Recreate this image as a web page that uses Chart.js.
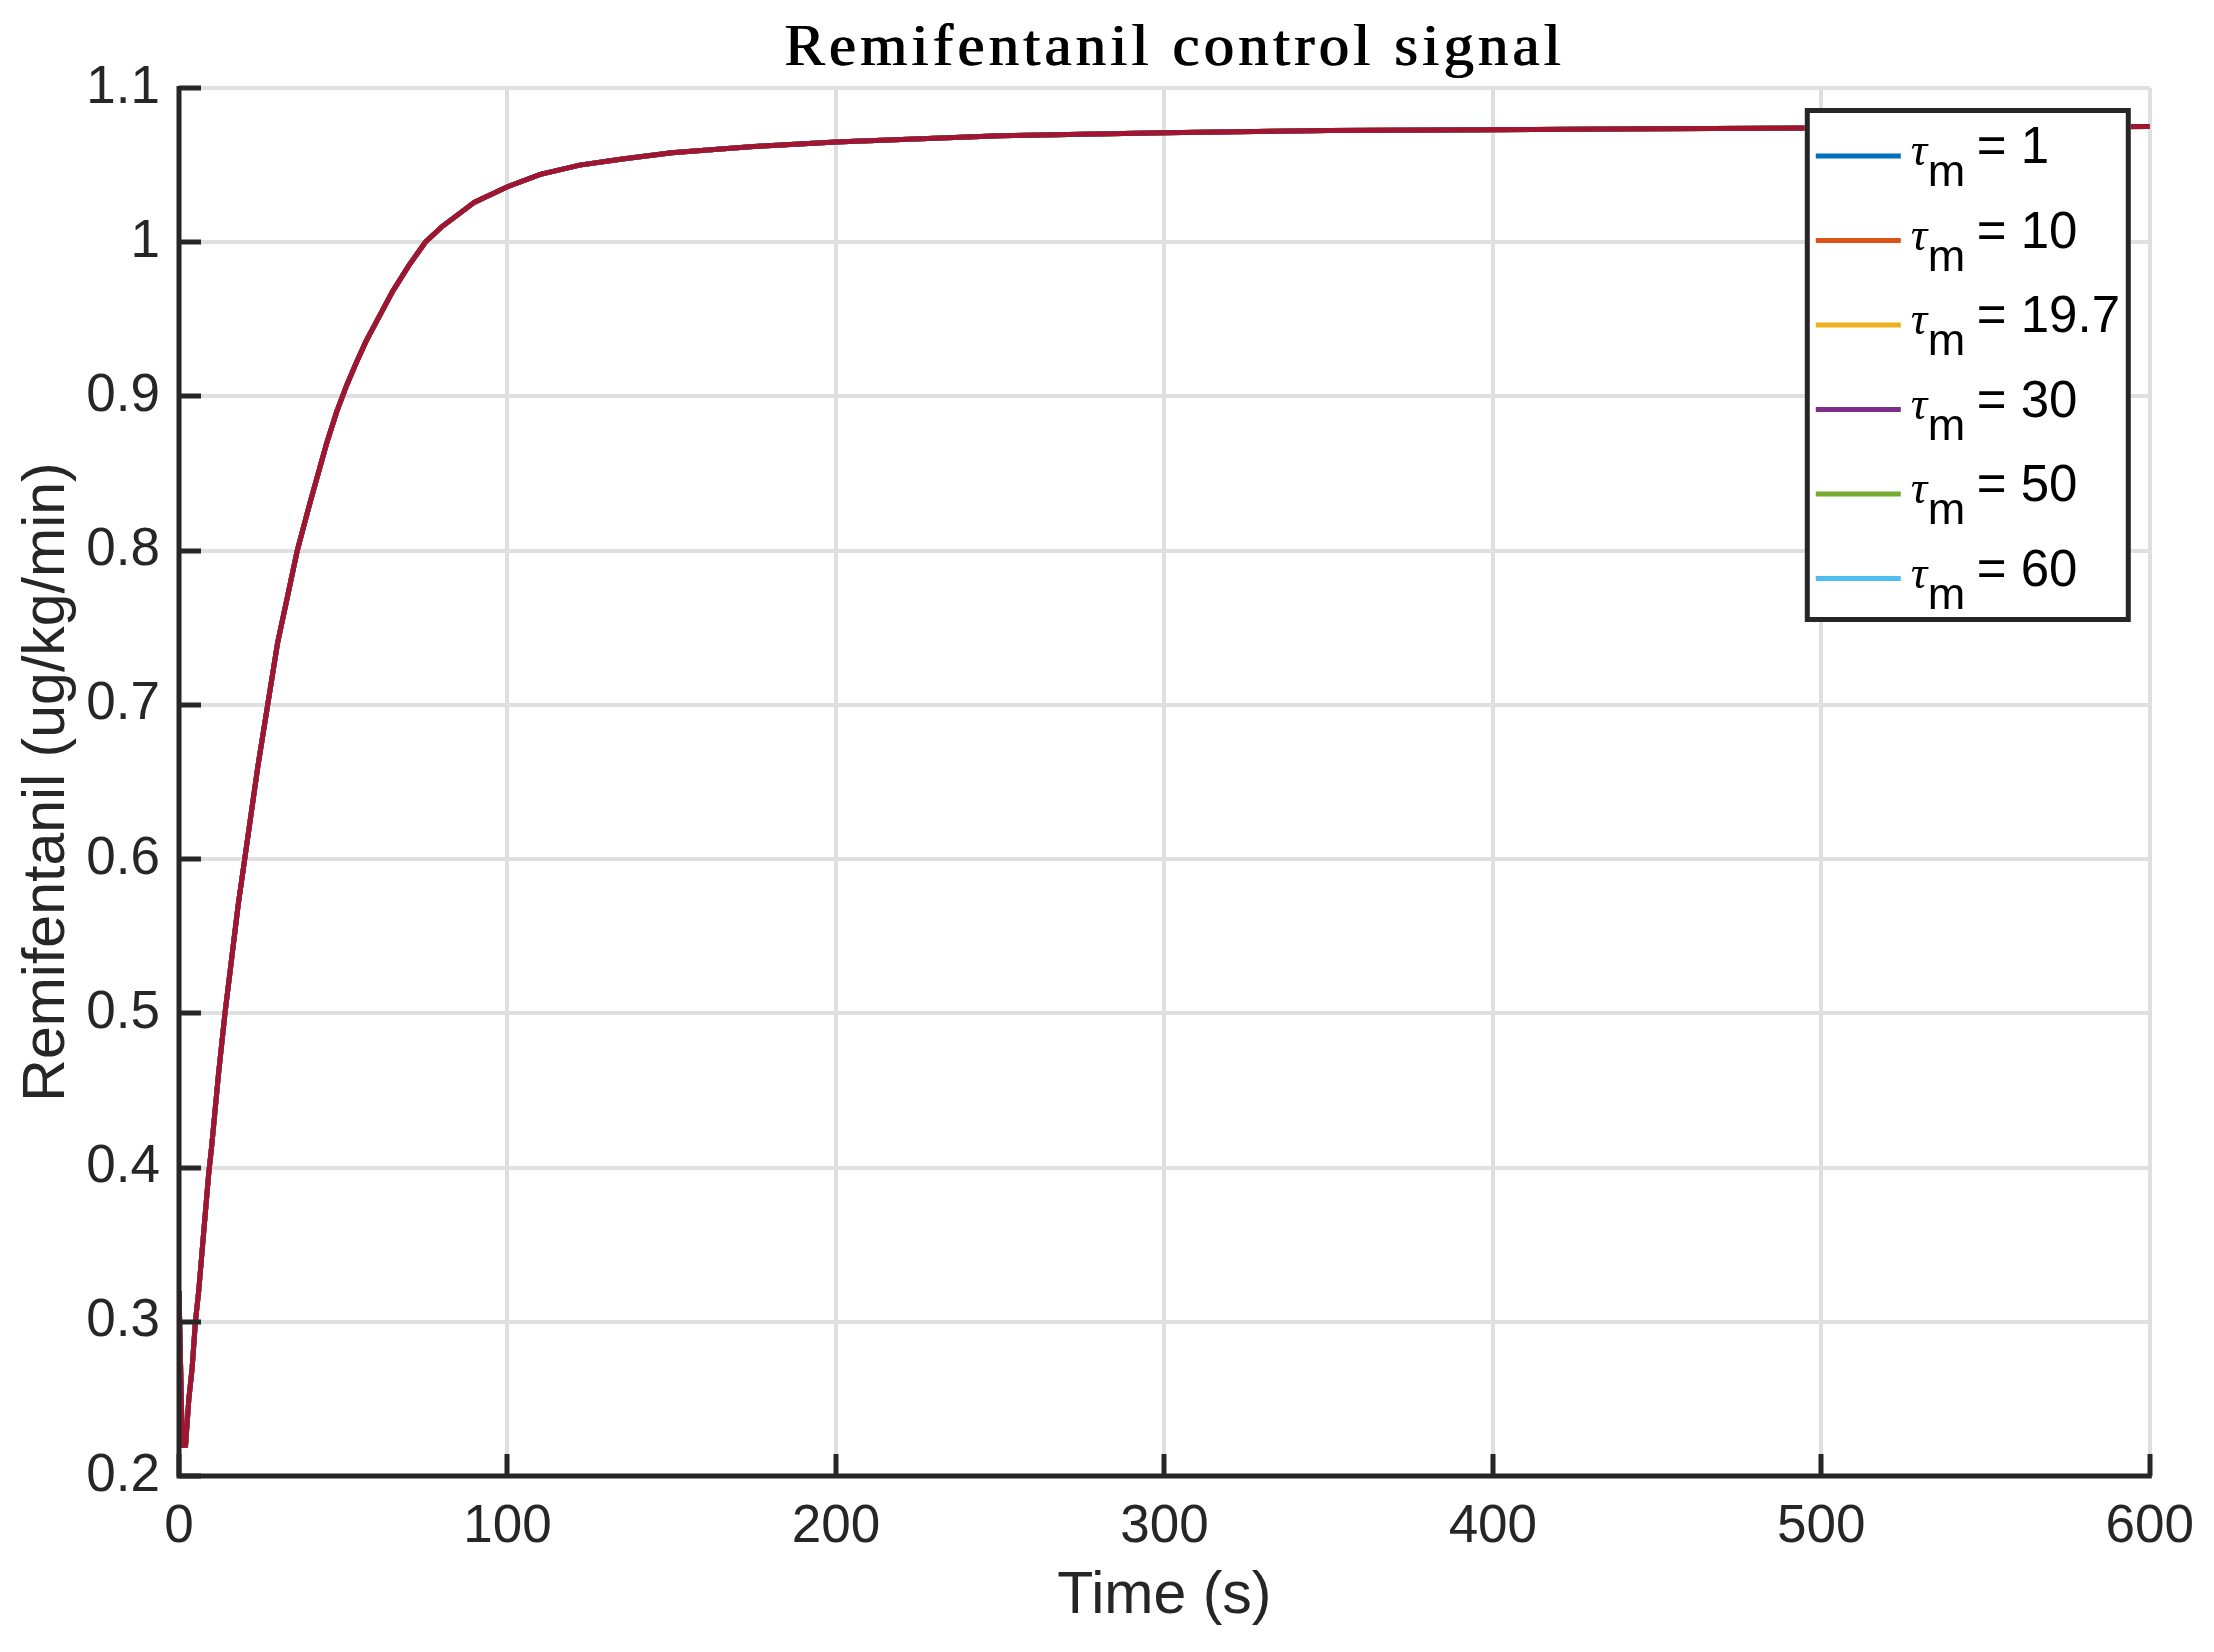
<!DOCTYPE html>
<html>
<head>
<meta charset="utf-8">
<title>Remifentanil control signal</title>
<script src="https://cdn.jsdelivr.net/npm/chart.js@4.4.1/dist/chart.umd.min.js"></script>
<style>
  html, body { margin: 0; padding: 0; background: #fff; }
  canvas { display: block; }
</style>
</head>
<body>
<canvas id="remiChart" width="2214" height="1652"></canvas>
<script>
// time axis (s) and the control signal
const timeS = [0, 1, 2, 3, 4, 5, 6, 7, 8, 9, 10, 12, 14, 16, 18, 20, 22, 24, 27, 30, 33, 36, 40, 45, 48,
    51, 54, 57, 60, 65, 70, 75, 80, 90, 100, 110, 122, 135, 150, 175, 200, 250, 300, 350, 400, 450, 500, 550, 600];
const remifentanil = [0.32, 0.22, 0.22, 0.25, 0.27, 0.30, 0.32, 0.345, 0.37, 0.395, 0.415, 0.46, 0.50, 0.535, 0.57, 0.60, 0.63, 0.66, 0.70, 0.74, 0.77, 0.80, 0.832, 0.870, 0.89,
    0.907, 0.922, 0.936, 0.948, 0.968, 0.985, 1.0, 1.01, 1.026, 1.036, 1.044, 1.05, 1.054, 1.058, 1.062, 1.065, 1.069, 1.071, 1.0725, 1.073, 1.0735, 1.074, 1.0745, 1.075];

// legend entries (tau_m values) - all curves coincide
const tauM = ['1', '10', '19.7', '30', '50', '60'];
const lineColors = ['#0072BD', '#D95319', '#EDB120', '#7E2F8E', '#77AC30', '#4DBEEE'];
const topColor = '#A2142F'; // 7th curve, drawn last, not in legend

const xTicks = [0, 100, 200, 300, 400, 500, 600];
const yTicks = [0.2, 0.3, 0.4, 0.5, 0.6, 0.7, 0.8, 0.9, 1.0, 1.1];

const axisColor = '#262626';
const points = timeS.map((t, i) => ({ x: t, y: remifentanil[i] }));

const datasets = tauM.map((tau, i) => ({
    label: 'τm = ' + tau,
    data: points,
    borderColor: lineColors[i],
    borderWidth: 5,
    pointRadius: 0,
    tension: 0,
    order: i + 1
}));
datasets.push({
    label: 'extra',
    data: points,
    borderColor: topColor,
    borderWidth: 5,
    pointRadius: 0,
    tension: 0,
    order: 0
});

// inward ticks like matlab
const innerTicks = {
    id: 'innerTicks',
    afterDatasetsDraw(chart) {
        const { ctx, chartArea, scales } = chart;
        ctx.save();
        ctx.strokeStyle = axisColor;
        ctx.lineWidth = 5;
        ctx.beginPath();
        yTicks.forEach(v => {
            const y = Math.round(scales.y.getPixelForValue(v));
            ctx.moveTo(chartArea.left, y);
            ctx.lineTo(chartArea.left + 22, y);
        });
        xTicks.forEach(v => {
            const x = Math.round(scales.x.getPixelForValue(v));
            ctx.moveTo(x, chartArea.bottom);
            ctx.lineTo(x, chartArea.bottom - 22);
        });
        ctx.stroke();
        // axis lines on top
        ctx.beginPath();
        ctx.moveTo(chartArea.left, chartArea.top - 2);
        ctx.lineTo(chartArea.left, chartArea.bottom);
        ctx.lineTo(chartArea.right + 2, chartArea.bottom);
        ctx.stroke();
        ctx.restore();
    }
};

// boxed legend inside the plot, with subscript
const boxLegend = {
    id: 'boxLegend',
    afterDraw(chart) {
        const { ctx, chartArea } = chart;
        const w = 326, h = 514;
        const left = chartArea.right - 19 - w;
        const top = chartArea.top + 20;
        ctx.save();
        ctx.fillStyle = '#fff';
        ctx.fillRect(left, top, w, h);
        ctx.strokeStyle = axisColor;
        ctx.lineWidth = 5;
        ctx.strokeRect(left + 2.5, top + 2.5, w - 5, h - 5);
        tauM.forEach((tau, i) => {
            const y = top + 48 + i * 84.5;
            ctx.strokeStyle = lineColors[i];
            ctx.lineWidth = 5;
            ctx.beginPath();
            ctx.moveTo(left + 11, y);
            ctx.lineTo(left + 96, y);
            ctx.stroke();
            ctx.fillStyle = '#000';
            ctx.textAlign = 'left';
            ctx.textBaseline = 'alphabetic';
            ctx.font = 'italic 46px "Liberation Serif", serif';
            ctx.fillText('τ', left + 106, y + 9);
            ctx.font = '45px "Liberation Sans", Arial, sans-serif';
            ctx.fillText('m', left + 123, y + 30);
            ctx.font = '51px "Liberation Sans", Arial, sans-serif';
            ctx.fillText('= ' + tau, left + 172, y + 7);
        });
        ctx.restore();
    }
};

// title with the spread-out serif look
const spacedTitle = {
    id: 'spacedTitle',
    afterDraw(chart) {
        const ctx = chart.ctx;
        const text = 'Remifentanil control signal';
        ctx.save();
        ctx.font = '60px "Liberation Serif", serif';
        ctx.fillStyle = '#000';
        ctx.textBaseline = 'alphabetic';
        ctx.textAlign = 'left';
        const w0 = ctx.measureText(text).width;
        const sp = (776 - w0) / (text.length - 1);
        let x = 784;
        for (const ch of text) {
            ctx.fillText(ch, x, 65);
            ctx.fillText(ch, x + 1.5, 65); // a bit heavier
            x += ctx.measureText(ch).width + sp;
        }
        ctx.restore();
    }
};

const tickFont = { family: '"Liberation Sans", Arial, sans-serif', size: 53 };
const titleFont = { family: '"Liberation Sans", Arial, sans-serif', size: 59 };

new Chart(document.getElementById('remiChart').getContext('2d'), {
    type: 'line',
    data: { datasets: datasets },
    options: {
        responsive: false,
        animation: false,
        layout: { padding: { top: 88, right: 63, left: 0, bottom: 0 } },
        plugins: {
            legend: { display: false },
            title: { display: false },
            tooltip: { enabled: false }
        },
        scales: {
            x: {
                type: 'linear',
                min: 0,
                max: 600,
                afterBuildTicks: s => { s.ticks = xTicks.map(v => ({ value: v })); },
                afterFit: s => { s.height = 176; },
                grid: { color: '#DFDFDF', lineWidth: 4, drawTicks: false },
                border: { display: false },
                ticks: { font: tickFont, color: axisColor, padding: 20, maxRotation: 0 },
                title: { display: true, text: 'Time (s)', font: titleFont, color: axisColor, padding: { top: 0, bottom: 20 } }
            },
            y: {
                type: 'linear',
                min: 0.2,
                max: 1.1,
                afterBuildTicks: s => { s.ticks = yTicks.map(v => ({ value: v })); },
                afterFit: s => { s.width = 179; },
                grid: { color: '#DFDFDF', lineWidth: 4, drawTicks: false },
                border: { display: false },
                ticks: {
                    font: tickFont,
                    color: axisColor,
                    padding: 19,
                    callback: v => String(Number(v.toFixed(1)))
                },
                title: { display: true, text: 'Remifentanil (ug/kg/min)', font: titleFont, color: axisColor, padding: { top: 12, bottom: 0 } }
            }
        }
    },
    plugins: [innerTicks, boxLegend, spacedTitle]
});
</script>
</body>
</html>
